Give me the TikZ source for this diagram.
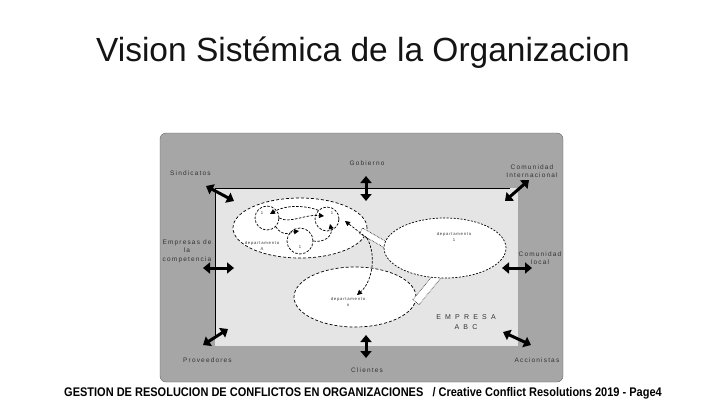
\documentclass[tikz,border=0pt]{standalone}
\usepackage{fontspec}
\setmainfont{Liberation Sans}
\newfontfamily\lblfont[LetterSpace=18]{Liberation Sans}
\newfontfamily\empfont[LetterSpace=60]{Liberation Sans}
\usetikzlibrary{arrows.meta,shapes.geometric}
\definecolor{outergray}{HTML}{A6A6A6}
\definecolor{innergray}{HTML}{E5E5E5}
\definecolor{lbltext}{HTML}{333333}
\tikzset{
  x=1pt, y=-1pt,
  bigarrow/.style={line width=3pt, black, {Triangle[length=7pt,width=11pt]}-{Triangle[length=7pt,width=11pt]}},
  extlabel/.style={font=\lblfont\fontsize{6.5}{8.5}\selectfont, text=lbltext, align=center, inner sep=0pt},
  deptlabel/.style={font=\lblfont\fontsize{4.2}{5.5}\selectfont, text=lbltext, align=center, inner sep=0pt},
  dept/.style={ellipse, draw=black, fill=white, dash pattern=on 3pt off 2pt, line width=0.7pt, inner sep=0pt},
  deptdot/.style={ellipse, draw=black, dash pattern=on 2pt off 1.5pt, line width=0.7pt, inner sep=0pt},
  subdept/.style={circle, draw=black, dash pattern=on 2.5pt off 1.5pt, line width=0.7pt, inner sep=0pt},
  flow/.style={dash pattern=on 2.5pt off 1.5pt, line width=0.7pt, -{Triangle[length=5pt,width=5pt]}},
  band/.style={fill=white, draw=black, densely dotted, line width=0.6pt},
}
\begin{document}
\begin{tikzpicture}
\useasboundingbox (0,0) rectangle (720,405);
\fill[white] (0,0) rectangle (720,405);

% title
\node[font=\fontsize{33.5}{38}\selectfont, text=black!92, anchor=base] (title) at (363,61) {Vision Sistémica de la Organizacion};

% environment and company
\draw[fill=outergray, draw=black!60, line width=0.4pt, rounded corners=6pt] (160,133) rectangle (563,382);
\fill[innergray] (215,188) rectangle (518,346);
\draw[black, line width=0.8pt] (215,336) -- (215,188) -- (510,188);

% external labels
\node[extlabel, anchor=west] (sind) at (170,173) {Sindicatos};
\node[extlabel] (gob) at (367,163) {Gobierno};
\node[extlabel] (cint) at (532,171) {Comunidad\\Internacional};
\node[extlabel] (comp) at (187,251) {Empresas de\\la\\competencia};
\node[extlabel] (cloc) at (540,258) {Comunidad\\local};
\node[extlabel, anchor=west] (prov) at (183,360) {Proveedores};
\node[extlabel] (cli) at (367,370) {Clientes};
\node[extlabel] (acc) at (537,360) {Accionistas};
\node[font=\empfont\fontsize{7}{10}\selectfont, text=lbltext, align=center] (emp) at (466,322) {EMPRESA\\ABC};

% interaction arrows
\coordinate (a1s) at (206,186); \coordinate (a1e) at (234,201);
\coordinate (a2s) at (366,176); \coordinate (a2e) at (366,201);
\coordinate (a3s) at (529,180); \coordinate (a3e) at (505,201);
\coordinate (a4s) at (203,268); \coordinate (a4e) at (234,268);
\coordinate (a5s) at (502,268); \coordinate (a5e) at (532,268);
\coordinate (a6s) at (203,345); \coordinate (a6e) at (228,329);
\coordinate (a7s) at (366,335); \coordinate (a7e) at (366,358);
\coordinate (a8s) at (503,332); \coordinate (a8e) at (531,345);
\foreach \i in {1,...,8} \draw[bigarrow] (a\i s) -- (a\i e);

% departments
\node[dept, minimum width=134pt, minimum height=60pt] (dA) at (300,228) {};
\node[dept, minimum width=122pt, minimum height=60pt, draw=none] (d1) at (445,248) {};
\node[dept, minimum width=122pt, minimum height=60pt] (dn) at (355,297) {};

% hollow bands between departments
\draw[band] (359.5,233.5) -- (386.5,249.0) -- (389.5,243.5) -- (362.5,228.0) -- cycle;
\draw[band] (412.9,299.5) -- (448.9,255.5) -- (455.1,260.5) -- (419.1,304.5) -- cycle;
\node[deptdot, minimum width=122pt, minimum height=60pt, fill=white] at (445,248) {};

% sub-units
\node[subdept, minimum size=24pt] (c1) at (267,218) {};
\node[subdept, minimum size=24pt] (c2) at (327,219) {};
\node[subdept, minimum size=26pt] (c3) at (300,241) {};
\node[deptlabel] at (262,213) {1};
\node[deptlabel] at (332,213) {1};
\node[deptlabel] at (300,247) {1};

\draw[flow] (c2.north west) .. controls (305,205) and (285,205) .. (270,214);
\draw[flow] (c1.south east) .. controls (283,238) and (292,232) .. (299,231);
\draw[flow] (c3.east) .. controls (324,243) and (333,236) .. (330,224);
\draw[flow] (c1.east) .. controls (290,224) and (305,214) .. (324,216);
\coordinate (fx) at (367,238);
\draw[flow] (fx) -- (345,221);
\draw[flow] (fx) .. controls (377,256) and (372,282) .. (357,295);

% department labels
\node[deptlabel] (lA) at (262,246) {departamento\\A};
\node[deptlabel] (l1) at (454,237) {departamento\\1};
\node[deptlabel] (ln) at (348,302) {departamento\\n};

% footer
\node[font=\bfseries\fontsize{12.5}{14}\selectfont, anchor=base, inner sep=0pt] (foot) at (363,396)
  {\scalebox{0.88}[1]{GESTION DE RESOLUCION DE CONFLICTOS EN ORGANIZACIONES \ \ / Creative Conflict Resolutions 2019 - Page4}};
\end{tikzpicture}
\end{document}
